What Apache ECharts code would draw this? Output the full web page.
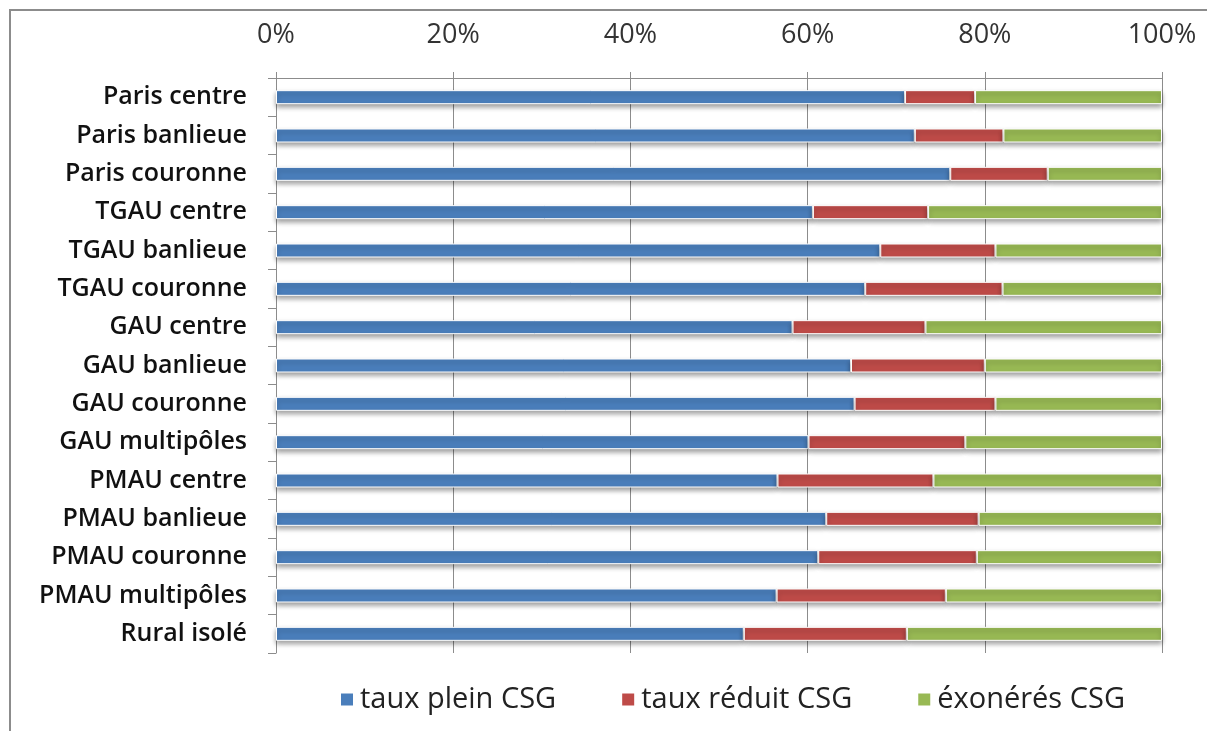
<!DOCTYPE html>
<html>
<head>
<meta charset="utf-8">
<script src="https://cdn.jsdelivr.net/npm/echarts@6/dist/echarts.min.js"></script>
<style>
  html, body { margin: 0; padding: 0; background: #fff; }
  #chart { width: 1207px; height: 731px; }
</style>
</head>
<body>
<div id="chart"></div>
<script>
  // catégories de territoire, de haut en bas
  const categories = [
    'Paris centre', 'Paris banlieue', 'Paris couronne',
    'TGAU centre', 'TGAU banlieue', 'TGAU couronne',
    'GAU centre', 'GAU banlieue', 'GAU couronne', 'GAU multipôles',
    'PMAU centre', 'PMAU banlieue', 'PMAU couronne', 'PMAU multipôles',
    'Rural isolé'
  ]
  // parts en %
  const tauxPlein = [71.0, 72.1, 76.1, 60.6, 68.2, 66.5, 58.3, 64.9, 65.3, 60.1, 56.6, 62.1, 61.2, 56.5, 52.8]
  const tauxReduit = [7.9, 10.0, 11.0, 13.0, 13.0, 15.5, 15.0, 15.1, 15.9, 17.7, 17.6, 17.2, 17.9, 19.1, 18.4]
  const exoneres = [21.1, 17.9, 12.9, 26.4, 18.8, 18.0, 26.7, 20.0, 18.8, 22.2, 25.8, 20.7, 20.9, 24.4, 28.8]
  const tickLabels = ['0%', '20%', '40%', '60%', '80%', '100%']

  const seriesNames = ['taux plein CSG', 'taux réduit CSG', 'éxonérés CSG']
  const colors = ['#4a7ebb', '#be4b48', '#98b954']
  const font = '"Open Sans", Lato, sans-serif'

  const chart = echarts.init(document.getElementById('chart'))

  const barStyle = {
    borderColor: '#fff',
    borderWidth: 1,
    shadowColor: 'rgba(0,0,0,0.38)',
    shadowBlur: 5,
    shadowOffsetY: 3
  }

  const option = {
    animation: false,
    color: colors,
    graphic: [{
      type: 'rect',
      shape: { x: 10, y: 10, width: 1210, height: 730 },
      style: { fill: 'none', stroke: '#8c8c8c', lineWidth: 2 },
      silent: true
    }],
    legend: {
      bottom: 12,
      left: 334,
      icon: 'rect',
      itemWidth: 14,
      itemHeight: 14,
      itemGap: 64,
      data: seriesNames,
      textStyle: { fontFamily: font, fontSize: 29, color: '#222', padding: [0, 0, 0, 1] }
    },
    grid: { left: 276, right: 45, top: 78, height: 575 },
    xAxis: {
      type: 'value',
      position: 'top',
      min: 0,
      max: 100,
      interval: 20,
      axisLine: { show: true, lineStyle: { color: '#8c8c8c' } },
      axisTick: { show: true, length: 6, lineStyle: { color: '#8c8c8c' } },
      splitLine: { show: true, lineStyle: { color: '#8c8c8c' } },
      axisLabel: {
        margin: 29,
        fontFamily: font,
        fontSize: 27,
        color: '#333',
        formatter: function (v) { return tickLabels[v / 20] }
      }
    },
    yAxis: {
      type: 'category',
      inverse: true,
      data: categories,
      axisLine: { show: true, lineStyle: { color: '#8c8c8c' } },
      axisTick: { show: true, length: 8, lineStyle: { color: '#8c8c8c' } },
      axisLabel: {
        margin: 29,
        fontFamily: font,
        fontWeight: 600,
        fontSize: 25,
        color: '#111'
      }
    },
    series: [tauxPlein, tauxReduit, exoneres].map(function (d, i) {
      return {
        name: seriesNames[i],
        type: 'bar',
        stack: 'total',
        barWidth: 14,
        data: d,
        itemStyle: barStyle
      }
    })
  }

  chart.setOption(option)
</script>
</body>
</html>
